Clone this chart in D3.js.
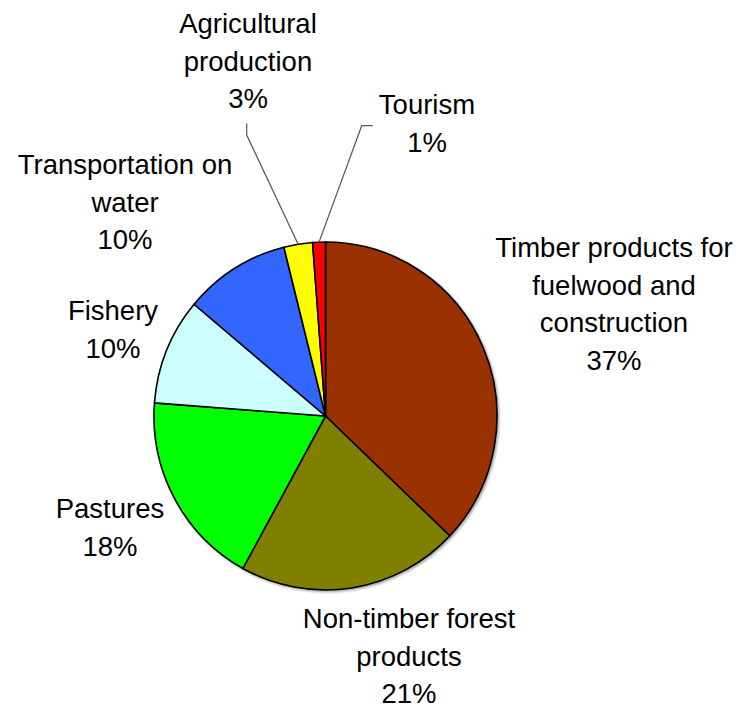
<!DOCTYPE html>
<html>
<head>
<meta charset="utf-8">
<script src="https://cdn.jsdelivr.net/npm/d3@7"></script>
<style>
  html, body { margin: 0; padding: 0; background: #fff; }
  svg { display: block; }
</style>
</head>
<body>
<svg id="chart" width="739" height="708"></svg>
<script>
// ---- data ----
const categories = [
  "Timber products for fuelwood and construction",
  "Non-timber forest products",
  "Pastures",
  "Fishery",
  "Transportation on water",
  "Agricultural production",
  "Tourism"
];
const values = [37.1, 20.9, 18.2, 9.9, 10.0, 2.7, 1.2];
const labelLines = [
  ["Timber products for", "fuelwood and", "construction"],
  ["Non-timber forest", "products"],
  ["Pastures"],
  ["Fishery"],
  ["Transportation on", "water"],
  ["Agricultural", "production"],
  ["Tourism"]
];
const colors = ["#993300", "#808000", "#00FF00", "#CCFFFF", "#3366FF", "#FFFF00", "#FF0000"];

// ---- layout (not data) ----
const cx = 325.5, cy = 416, R = 171.5, sy = 174 / 171.5;
const lineH = 37.5;
const labelPos = [
  [614, 257], [409, 628], [110, 518], [113, 320], [125, 174], [248, 33], [427, 114]
];
// leader line start points (label side) for the small slices
const leaders = { 5: [[246.7, 123.5], [246.7, 135]], 6: [[372.7, 125.7], [361.7, 125.7]] };

const svg = d3.select("#chart");
const defs = svg.append("defs");
const f = defs.append("filter").attr("id", "shadow").attr("x", "-10%").attr("y", "-10%").attr("width", "120%").attr("height", "120%");
f.append("feDropShadow").attr("dx", 1.5).attr("dy", 1.5).attr("stdDeviation", 1.2).attr("flood-color", "#000").attr("flood-opacity", 0.35);

const pie = d3.pie().sort(null).value(d => d)(values);
const arc = d3.arc().innerRadius(0).outerRadius(R);

const g = svg.append("g").attr("transform", `translate(${cx},${cy}) scale(1,${sy})`);
g.append("g").attr("filter", "url(#shadow)")
  .selectAll("path").data(pie).join("path")
  .attr("d", arc)
  .attr("fill", (d, i) => colors[i])
  .attr("stroke", "#000")
  .attr("stroke-width", 1.6)
  .attr("vector-effect", "non-scaling-stroke")
  .attr("stroke-linejoin", "round");

// leader lines
pie.forEach((d, i) => {
  if (!leaders[i]) return;
  const mid = (d.startAngle + d.endAngle) / 2;
  const ex = cx + R * Math.sin(mid);
  const ey = cy - R * sy * Math.cos(mid);
  const pts = leaders[i].concat([[ex, ey]]);
  svg.append("path")
    .attr("d", d3.line()(pts))
    .attr("fill", "none")
    .attr("stroke", "#555")
    .attr("stroke-width", 1.2);
});

// labels
const fmt = v => Math.round(v) + "%";
pie.forEach((d, i) => {
  const lines = labelLines[i].concat([fmt(values[i])]);
  const t = svg.append("text")
    .attr("x", labelPos[i][0]).attr("y", labelPos[i][1])
    .attr("text-anchor", "middle")
    .attr("font-family", "'Liberation Sans', Arial, sans-serif")
    .attr("font-size", 27.5)
    .attr("fill", "#000");
  lines.forEach((s, k) => {
    t.append("tspan").attr("x", labelPos[i][0]).attr("dy", k === 0 ? 0 : lineH).text(s);
  });
});
</script>
</body>
</html>
